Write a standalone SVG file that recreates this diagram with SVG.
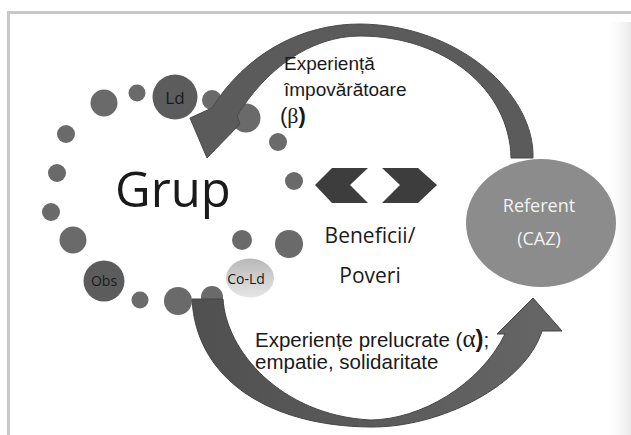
<svg xmlns="http://www.w3.org/2000/svg" width="631" height="435" viewBox="0 0 631 435">
<defs>
<style>
.dot{fill:#6a6a6a}
.key{fill:#5c5c5c}
.lbl{font-family:"Open Sans","DejaVu Sans",sans-serif;fill:#1a1a1a}
.ar{font-family:"Liberation Sans",Arial,sans-serif;fill:#1a1a1a}
.arrow{fill:#5b5b5b;stroke:#4a4a4a;stroke-width:1}
</style>
<linearGradient id="coGrad" x1="0" y1="0" x2="0" y2="1">
<stop offset="0" stop-color="#b8b8b8"/>
<stop offset="1" stop-color="#e6e6e6"/>
</linearGradient>
<linearGradient id="botGrad" x1="0" y1="0" x2="1" y2="0">
<stop offset="0" stop-color="#505050"/>
<stop offset="1" stop-color="#666666"/>
</linearGradient>
<linearGradient id="edge" x1="0" y1="0" x2="1" y2="0">
<stop offset="0" stop-color="#ffffff" stop-opacity="0"/>
<stop offset="1" stop-color="#e8e8e8"/>
</linearGradient>
</defs>
<rect width="631" height="435" fill="#ffffff"/>
<rect x="605" y="22" width="26" height="413" fill="url(#edge)"/>
<g id="frame" fill="#c8c8c8">
<rect x="7" y="11" width="624" height="3"/>
<rect x="7" y="11" width="3" height="424"/>
</g>

<g id="group-dots">
<circle class="dot" cx="137" cy="93" r="8.5"/>
<circle class="dot" cx="104" cy="103" r="13.5"/>
<circle class="dot" cx="66" cy="134" r="9"/>
<circle class="dot" cx="57" cy="173" r="9"/>
<circle class="dot" cx="51" cy="212" r="9"/>
<circle class="dot" cx="73" cy="240" r="13.5"/>
<circle class="dot" cx="140" cy="300" r="8.5"/>
<circle class="dot" cx="178" cy="301" r="14"/>
<circle class="dot" cx="212" cy="297" r="11"/>
<circle class="dot" cx="242" cy="240" r="10"/>
<circle class="dot" cx="289" cy="244" r="14"/>
<circle class="dot" cx="294" cy="181" r="9"/>
<circle class="dot" cx="278" cy="142" r="9"/>
<circle class="dot" cx="246" cy="118" r="14.5"/>
<circle class="dot" cx="212" cy="100" r="10"/>
</g>

<g id="node-ld">
<circle class="key" cx="175" cy="97" r="22.5"/>
<text class="lbl" x="175" y="104" font-size="17" text-anchor="middle">Ld</text>
</g>
<g id="node-obs">
<circle class="key" cx="104" cy="281" r="20.5"/>
<text class="lbl" x="104" y="286" font-size="14" text-anchor="middle">Obs</text>
</g>
<g id="node-cold">
<ellipse cx="250" cy="278" rx="24" ry="19.5" fill="url(#coGrad)"/>
<text class="lbl" x="246" y="284" font-size="14" text-anchor="middle">Co-Ld</text>
</g>

<g id="node-grup">
<text class="lbl" x="115" y="207" font-size="49" fill="#111">Grup</text>
</g>

<g id="node-referent">
<ellipse cx="541" cy="223" rx="75" ry="64" fill="#8c8c8c"/>
<text x="539" y="212" font-family="Open Sans,DejaVu Sans,sans-serif" font-size="18" fill="#f2f2f2" text-anchor="middle">Referent</text>
<text x="539" y="245" font-family="Open Sans,DejaVu Sans,sans-serif" font-size="18" fill="#f2f2f2" text-anchor="middle">(CAZ)</text>
</g>

<g id="connectors">
<path id="arrow-top" class="arrow" d="M533,158 C535,95 460,25 360,24 C300,24 245,55 212,108 L190,118 L207,158 L240,124 L237,116 C265,70 310,36 360,36 C445,36 510,90 511,158 Z"/>
<path id="arrow-bottom" fill="url(#botGrad)" stroke="#454545" stroke-width="1" d="M192,299 L223,299 C226,350 280,415 370,420 C420,420 480,385 505,334 L497,334 L533,298 L562,331 L542,331 C525,385 440,428 370,427 C270,426 196,380 192,299 Z"/>
<g id="chevrons" fill="#3d3d3d">
<polygon points="315,185 332,168 368,168 350,185 368,203 332,203"/>
<polygon points="382,168 418,168 437,185 418,203 382,203 400,185"/>
</g>
</g>

<g id="label-benefits">
<text class="lbl" x="370" y="243" font-size="21" text-anchor="middle">Beneficii/</text>
<text class="lbl" x="370" y="283" font-size="21" text-anchor="middle">Poveri</text>
</g>

<g id="label-top">
<text class="ar" x="284" y="70" font-size="19">Experiență</text>
<text class="ar" x="284" y="96" font-size="19">împovărătoare</text>
<text class="ar" x="280" y="123" font-size="22"><tspan>(</tspan><tspan font-family="Liberation Serif,serif">β</tspan><tspan font-weight="bold">)</tspan></text>
</g>

<g id="label-bottom">
<text class="ar" x="255" y="347" font-size="20.5">Experiențe prelucrate <tspan>(</tspan><tspan font-family="Liberation Serif,serif" font-size="25">α</tspan><tspan font-weight="bold" font-size="24">)</tspan>;</text>
<text class="ar" x="255" y="369" font-size="20.5">empatie, solidaritate</text>
</g>
</svg>
